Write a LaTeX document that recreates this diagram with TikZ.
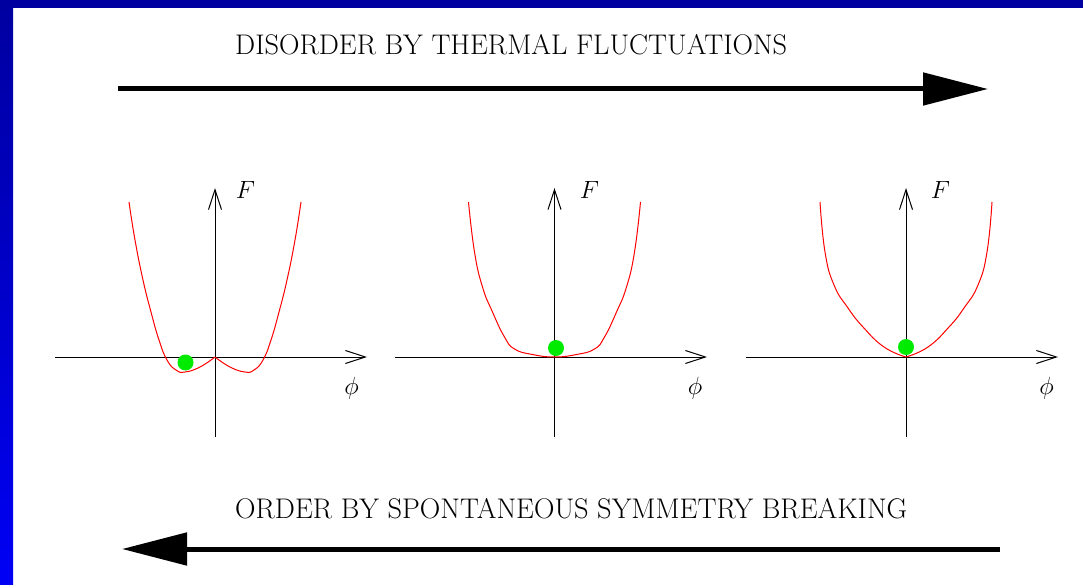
\documentclass[tikz,border=0pt]{standalone}
\usetikzlibrary{arrows.meta}
\definecolor{framedark}{RGB}{0,0,160}
\definecolor{framebright}{RGB}{0,0,245}
\definecolor{dotgreen}{RGB}{0,235,0}
\begin{document}
\begin{tikzpicture}[x=1pt,y=-1pt,
  bigarrow/.style={line width=5pt,-{Triangle[length=65pt,width=32pt]}},
  axis/.style={line width=1pt,-{Straight Barb[length=20pt,width=13pt]}},
  curve/.style={red,line width=1pt},
  ball/.style={circle,fill=dotgreen,minimum size=16pt,inner sep=0pt},
  title/.style={font=\fontsize{28.4}{34}\selectfont,inner sep=0pt,anchor=base west},
  lab/.style={font=\fontsize{27}{32}\selectfont,inner sep=0pt}]
\useasboundingbox (0,0) rectangle (1083,585);
\fill[white] (0,0) rectangle (1083,585);
\shade[top color=framedark,bottom color=framebright] (0,0) rectangle (13,585);
\fill[framedark] (0,0) rectangle (1083,8);

% titles and big arrows
\node[title] (ttop) at (235,55) {DISORDER BY THERMAL FLUCTUATIONS};
\coordinate (ta) at (118,89);
\coordinate (tb) at (988,89);
\draw[bigarrow] (ta) -- (tb);
\node[title] (tbot) at (235,518) {ORDER BY SPONTANEOUS SYMMETRY BREAKING};
\coordinate (ba) at (1000,549);
\coordinate (bb) at (122,549);
\draw[bigarrow] (ba) -- (bb);

% panel 1
\coordinate (x1a) at (55,357);
\coordinate (x1b) at (367,357);
\coordinate (y1a) at (215,437);
\coordinate (y1b) at (215,188);
\draw[axis] (x1a) -- (x1b);
\draw[axis] (y1a) -- (y1b);
\node[lab] (F1) at (245.5,190) {$F$};
\node[lab] (p1) at (351.5,388) {$\phi$};
\begin{scope}[shift={(215,357)}]
\draw[curve] plot[smooth,tension=0.8] coordinates {(-86,-155) (-80,-117) (-72,-77) (-64,-45) (-56,-17) (-48,3) (-39,13) (-30,15) (-15,10) (0,0)};
\draw[curve] plot[smooth,tension=0.8] coordinates {(86,-155) (80,-117) (72,-77) (64,-45) (56,-17) (48,3) (39,13) (30,15) (15,10) (0,0)};
\end{scope}
\node[ball] (g1) at (185.5,362.5) {};

% panel 2
\coordinate (x2a) at (395,357);
\coordinate (x2b) at (707,357);
\coordinate (y2a) at (554.5,437);
\coordinate (y2b) at (554.5,188);
\draw[axis] (x2a) -- (x2b);
\draw[axis] (y2a) -- (y2b);
\node[lab] (F2) at (589.5,190) {$F$};
\node[lab] (p2) at (695,388) {$\phi$};
\begin{scope}[shift={(554.5,357)}]
\draw[curve] plot[smooth,tension=0.8] coordinates {(-86,-155) (-80,-105) (-72,-70) (-62,-45) (-50,-20) (-40,-8) (-22,-2.5) (0,0) (22,-2.5) (40,-8) (50,-20) (62,-45) (72,-70) (80,-105) (86,-155)};
\end{scope}
\node[ball] (g2) at (556,348) {};

% panel 3
\coordinate (x3a) at (746,357);
\coordinate (x3b) at (1058,357);
\coordinate (y3a) at (906,437);
\coordinate (y3b) at (906,188);
\draw[axis] (x3a) -- (x3b);
\draw[axis] (y3a) -- (y3b);
\node[lab] (F3) at (940.5,190) {$F$};
\node[lab] (p3) at (1046.5,388) {$\phi$};
\begin{scope}[shift={(906,357)}]
\draw[curve] plot[smooth,tension=0.8] coordinates {(-86,-155) (-81,-105) (-72,-72) (-58,-49) (-43,-30) (-22,-10) (0,0)};
\draw[curve] plot[smooth,tension=0.8] coordinates {(86,-155) (81,-105) (72,-72) (58,-49) (43,-30) (22,-10) (0,0)};
\end{scope}
\node[ball] (g3) at (906,347) {};
\end{tikzpicture}
\end{document}
